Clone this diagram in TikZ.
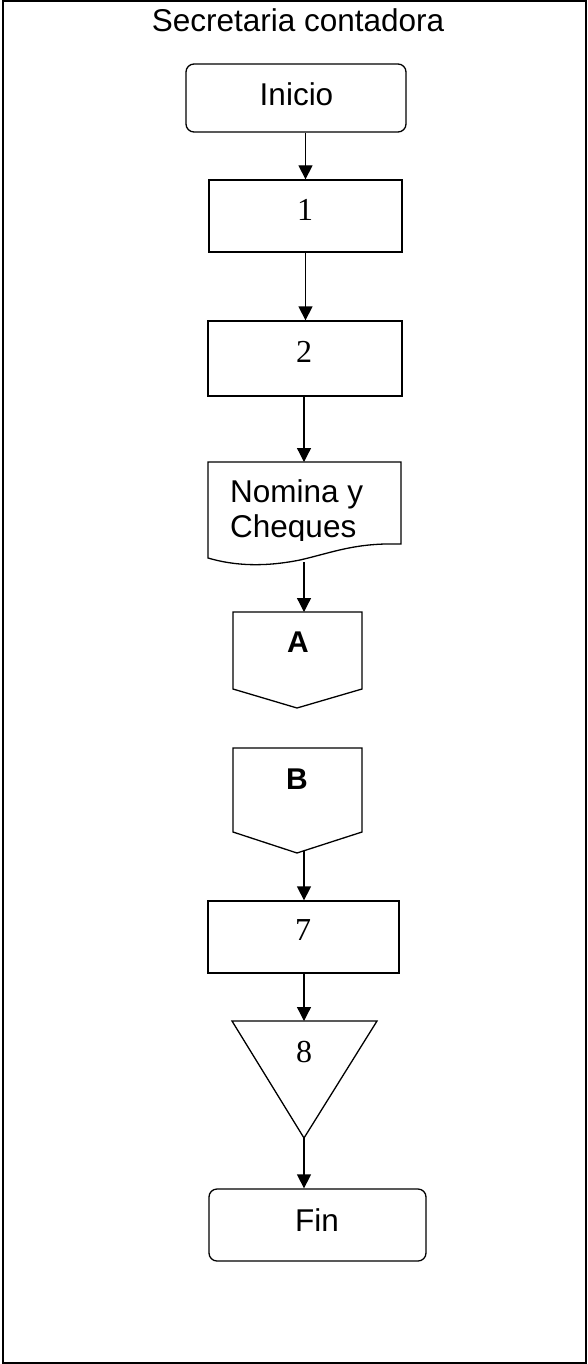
\documentclass[tikz,border=0pt]{standalone}
\usepackage{fontspec}
\setmainfont{Liberation Sans}
\newfontfamily\numfont{Liberation Serif}
\usetikzlibrary{arrows.meta}
\begin{document}
\begin{tikzpicture}[x=1pt,y=-1pt,
  shp/.style={draw, line width=1.3pt, line join=miter},
  box/.style={shp, rectangle, inner sep=0pt},
  term/.style={shp, rectangle, rounded corners=8pt, inner sep=0pt},
  lbl/.style={font=\fontsize{31.5}{35}\selectfont, inner sep=0pt},
  bl/.style={font=\fontsize{30}{35}\selectfont\bfseries, inner sep=0pt},
  num/.style={font=\numfont\fontsize{32}{35}\selectfont, inner sep=0pt},
  arr/.style={line width=1.3pt, -{Triangle[length=14pt,width=14pt]}}]
\useasboundingbox (0,0) rectangle (588,1364);
% frame
\draw[line width=2pt] (2.5,1) rectangle (586,1362.5);
\node[lbl] (title) at (298,20.5) {Secretaria contadora};
% Inicio
\node[term, minimum width=220pt, minimum height=68pt] (ini) at (296,98) {};
\node[lbl] (initxt) at (296.5,94.5) {Inicio};
% box 1
\node[box, minimum width=193pt, minimum height=72pt] (b1) at (305.5,216) {};
\node[num] (t1) at (305,210) {1};
% box 2
\node[box, minimum width=194pt, minimum height=75pt] (b2) at (305,358.5) {};
\node[num] (t2) at (304,352) {2};
% document
\draw[shp] (401,544) -- (401,462) -- (208,462) -- (208,558)
  .. controls (235,566) and (265,567) .. (300,560)
  .. controls (330,553) and (350,545) .. (385,544) -- cycle;
\coordinate (docN) at (304,462);
\coordinate (docS) at (304,562);
\node[lbl, anchor=base west] (doc1) at (230,502) {Nomina y};
\begin{scope}
  \clip (205,505) rectangle (405,540);
  \node[lbl, anchor=base west] (doc2) at (230,537) {Cheques};
\end{scope}
% connector A
\draw[shp] (233,612) -- (362,612) -- (362,689) -- (297,708) -- (233,689) -- cycle;
\coordinate (Atop) at (304,612);
\node[bl] (A) at (298,642.5) {A};
% connector B
\draw[shp] (233,748) -- (362,748) -- (362,832) -- (297,853) -- (233,832) -- cycle;
\coordinate (Bpt) at (304,851);
\node[bl] (B) at (297,779.5) {B};
% box 7
\node[box, minimum width=191pt, minimum height=72pt] (b7) at (303.5,937) {};
\node[num] (t7) at (303,930) {7};
% triangle 8
\draw[shp] (232,1021) -- (377,1021) -- (304,1138) -- cycle;
\coordinate (triN) at (304,1021);
\coordinate (triS) at (304,1138);
\node[num] (t8) at (304,1052) {8};
% Fin
\node[term, minimum width=217pt, minimum height=72pt] (fin) at (317.5,1225) {};
\node[lbl] (fintxt) at (317,1220.5) {Fin};
% arrows
\draw[arr] (b1.north |- ini.south) -- (b1.north);
\draw[arr] (b1.south) -- (b1.south |- b2.north);
\draw[arr] (b2.south -| docN) -- (docN);
\draw[arr] (docS) -- (Atop);
\draw[arr] (Bpt) -- (Bpt |- b7.north);
\draw[arr] (b7.south -| triN) -- (triN);
\draw[arr] (triS) -- (triS |- fin.north);
\end{tikzpicture}
\end{document}
